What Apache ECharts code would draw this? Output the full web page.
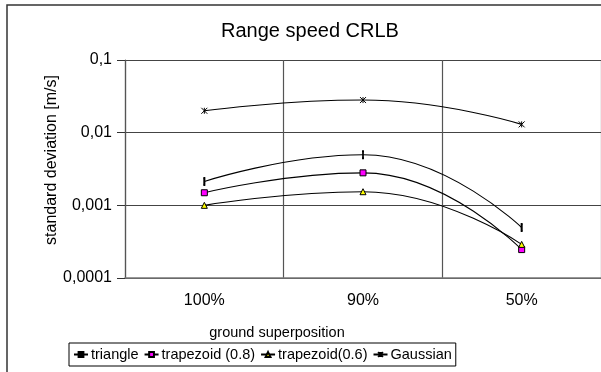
<!DOCTYPE html>
<html>
<head>
<meta charset="utf-8">
<script src="https://cdn.jsdelivr.net/npm/echarts@6/dist/echarts.min.js"></script>
<style>
  html, body { margin: 0; padding: 0; background: #fff; }
  #chart { width: 601px; height: 372px; }
</style>
</head>
<body>
<div id="chart"></div>
<script>
const categories = ['100%', '90%', '50%'];
const triangle = [0.00213, 0.00497, 0.000495];
const trapezoid08 = [0.00149, 0.0028, 0.000246];
const trapezoid06 = [0.001, 0.00154, 0.00029];
const gaussian = [0.020, 0.0281, 0.013];
const yTickLabels = ['0,0001', '0,001', '0,01', '0,1'];

const FONT = 'Liberation Sans, Arial, sans-serif';
const starPath = 'path://M0,0L10,10M10,0L0,10M5,0L5,10';

const chart = echarts.init(document.getElementById('chart'));

const lineSeries = (name, data, symbol, size, fill) => ({
  name: name,
  type: 'line',
  data: data,
  smooth: 0.5,
  symbol: symbol,
  symbolSize: size,
  showSymbol: true,
  lineStyle: { color: '#000', width: 1.1 },
  itemStyle: { color: fill, borderColor: '#000', borderWidth: 1 },
  emphasis: { disabled: true }
});

const option = {
  animation: false,
  textStyle: { fontFamily: FONT },
  grid: { left: 125, top: 60, width: 480, height: 218, containLabel: false },
  xAxis: {
    type: 'category',
    data: categories,
    boundaryGap: true,
    axisLine: { lineStyle: { color: '#777', width: 1.5 } },
    axisTick: { show: false },
    axisLabel: { color: '#000', fontSize: 16, margin: 15, fontFamily: FONT },
    splitLine: { show: true, lineStyle: { color: '#555', width: 1.2 } }
  },
  yAxis: {
    type: 'log',
    logBase: 10,
    min: 0.0001,
    max: 0.1,
    axisLine: { show: true, lineStyle: { color: '#555', width: 1.2 } },
    axisTick: { show: true, inside: false, length: 8, lineStyle: { color: '#333' } },
    axisLabel: {
      color: '#000',
      fontSize: 16,
      margin: 13,
      fontFamily: FONT,
      formatter: v => yTickLabels[Math.round(Math.log10(v)) + 4]
    },
    splitLine: { show: true, lineStyle: { color: '#444', width: 1.2 } }
  },
  legend: {
    left: 69,
    top: 343,
    orient: 'horizontal',
    padding: [4, 4],
    itemGap: 5,
    itemWidth: 14,
    itemHeight: 6,
    borderColor: '#000',
    borderWidth: 1,
    textStyle: { color: '#000', fontSize: 14.5, fontFamily: FONT, padding: [0, 0, 0, -2] },
    data: ['triangle', 'trapezoid (0.8)', 'trapezoid(0.6)', 'Gaussian']
  },
  graphic: [
    {
      type: 'rect',
      shape: { x: 7, y: 5, width: 700, height: 500 },
      style: { fill: 'none', stroke: '#333', lineWidth: 1.5 },
      silent: true
    },
    {
      type: 'text',
      x: 310,
      y: 31,
      style: { text: 'Range speed CRLB', font: '20px ' + FONT, fill: '#000', align: 'center', verticalAlign: 'middle' }
    },
    {
      type: 'text',
      x: 277,
      y: 333,
      style: { text: 'ground superposition', font: '14.5px ' + FONT, fill: '#000', align: 'center', verticalAlign: 'middle' }
    },
    {
      type: 'text',
      x: 52,
      y: 160,
      rotation: Math.PI / 2,
      style: { text: 'standard deviation [m/s]', font: '16px ' + FONT, fill: '#000', align: 'center', verticalAlign: 'middle' }
    }
  ],
  series: [
    lineSeries('triangle', triangle, 'rect', [1.5, 7], '#000'),
    lineSeries('trapezoid (0.8)', trapezoid08, 'rect', 6, '#ff00ff'),
    lineSeries('trapezoid(0.6)', trapezoid06, 'triangle', 6, '#ffff00'),
    lineSeries('Gaussian', gaussian, starPath, 6, '#000')
  ]
};

chart.setOption(option);
</script>
</body>
</html>
